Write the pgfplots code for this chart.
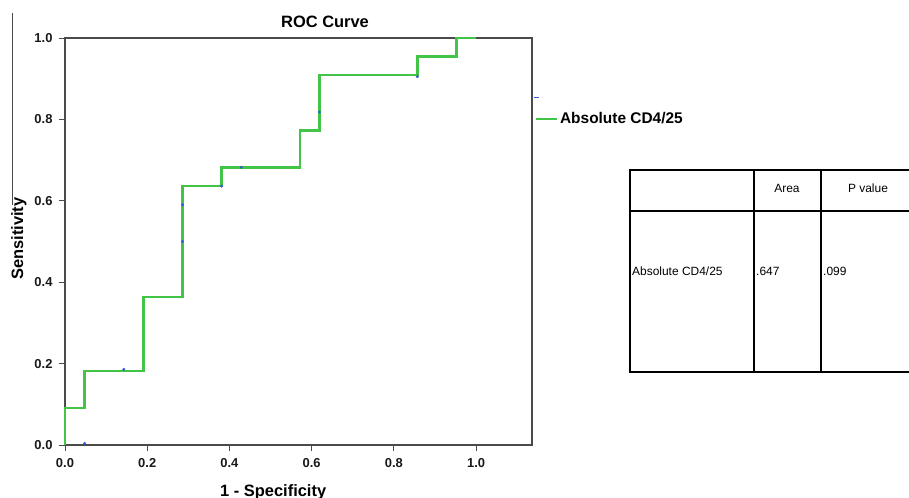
\documentclass[border=0pt]{standalone}
\usepackage{pgfplots}
\pgfplotsset{compat=1.18}
\usepackage{fontspec}
\setmainfont{Liberation Sans}
\definecolor{rocgreen}{RGB}{66,196,70}
\definecolor{rocblue}{RGB}{60,90,210}
\definecolor{axgray}{RGB}{75,75,75}
\begin{document}
\begin{tikzpicture}
\useasboundingbox (0,0) rectangle (909bp,-498bp);
\clip (0,0) rectangle (909bp,-498bp);
\begin{axis}[
  at={(65bp,-445bp)}, anchor=south west,
  scale only axis, width=467bp, height=407bp,
  xmin=0, xmax=1.136, ymin=0, ymax=1,
  xtick={0,0.2,0.4,0.6,0.8,1.0},
  ytick={0,0.2,0.4,0.6,0.8,1.0},
  axis line style={draw=axgray, line width=1.8bp},
  tick style={draw=axgray, line width=1bp},
  tick align=outside, tick pos=left, major tick length=6bp,
  ticklabel style={font=\bfseries\fontsize{13}{13}\selectfont, text=black!90},
  xticklabel style={yshift=-4bp,/pgf/number format/fixed,/pgf/number format/fixed zerofill,/pgf/number format/precision=1,/pgf/number format/assume math mode=true},
  yticklabel style={xshift=-3bp,/pgf/number format/fixed,/pgf/number format/fixed zerofill,/pgf/number format/precision=1,/pgf/number format/assume math mode=true},
  clip=false,
  legend image code/.code={\draw[#1] (0bp,0bp) -- (21bp,0bp);},
  legend style={at={(rel axis cs:1.0064,0.801)}, anchor=west, draw=none, fill=none,
    inner sep=0pt, outer sep=0pt, font=\bfseries\fontsize{15.5}{16}\selectfont,
    nodes={inner sep=1.5bp}},
]
\addplot[color=rocgreen, line width=2.6bp] coordinates {
 (0,0) (0,0.0909) (0.0476,0.0909) (0.0476,0.1818) (0.1905,0.1818)
 (0.1905,0.3636) (0.2857,0.3636) (0.2857,0.6364) (0.3810,0.6364)
 (0.3810,0.6818) (0.5714,0.6818) (0.5714,0.7727) (0.6190,0.7727)
 (0.6190,0.9091) (0.8571,0.9091) (0.8571,0.9545) (0.9524,0.9545)
 (0.9524,1) (1,1)
};
\addlegendentry{Absolute CD4/25}
\addplot[only marks, mark=*, mark size=1.3bp, color=rocblue, forget plot] coordinates {
 (0.0476,0.004) (0.143,0.186) (0.286,0.5) (0.286,0.59) (0.381,0.636)
 (0.429,0.682) (0.619,0.818) (0.857,0.905)
};
\addplot[only marks, mark=-, mark size=2.5bp, color=rocblue, line width=1.2bp, forget plot] coordinates {
 (1.146,0.853)
};
\end{axis}
\begin{scope}[x=1bp,y=-1bp]
  \draw[axgray, line width=1bp] (12,13) -- (12,205);
  \node[anchor=base west, inner sep=0pt, font=\bfseries\fontsize{16.5}{17}\selectfont] at (281,27) {ROC Curve};
  \node[anchor=base west, inner sep=0pt, font=\bfseries\fontsize{16.5}{17}\selectfont] at (220,496) {1 - Specificity};
  \node[anchor=base west, inner sep=0pt, rotate=90, font=\bfseries\fontsize{16.5}{17}\selectfont] at (23,280) {Sensitivity};
  % table
  \draw[black, line width=2.6bp] (940,170) -- (630,170) -- (630,372) -- (940,372);
  \draw[black, line width=2.6bp] (630,211) -- (940,211);
  \draw[black, line width=2.6bp] (754,170) -- (754,372);
  \draw[black, line width=1.2bp] (821,170) -- (821,372);
  \begin{scope}[every node/.style={inner sep=0pt, font=\fontsize{12}{12}\selectfont}]
    \node[anchor=base] at (787,192) {Area};
    \node[anchor=base] at (868,192) {P value};
    \node[anchor=base west] at (632,275) {Absolute CD4/25};
    \node[anchor=base west] at (756,275) {.647};
    \node[anchor=base west] at (823,275) {.099};
  \end{scope}
\end{scope}
\end{tikzpicture}
\end{document}
